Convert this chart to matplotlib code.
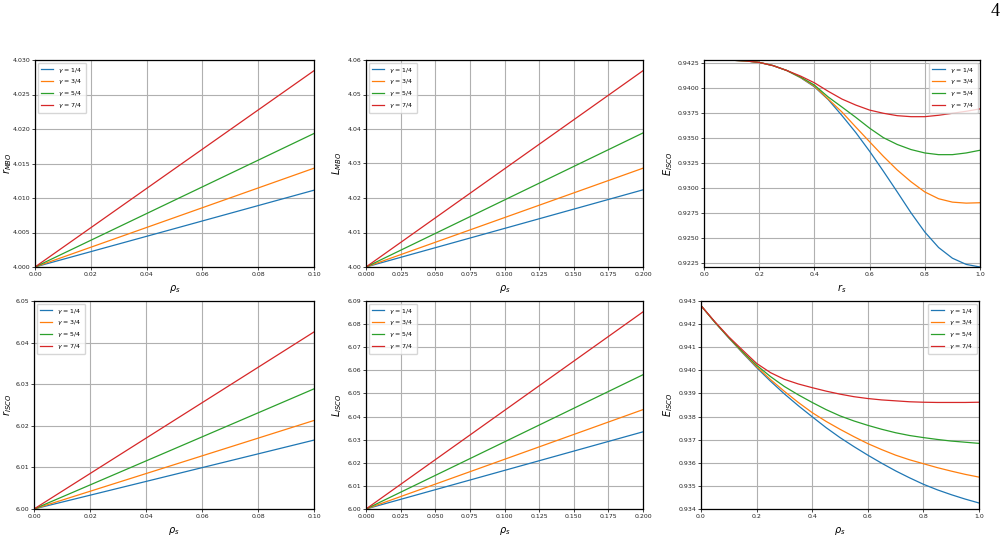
import numpy as np
import matplotlib
matplotlib.use("Agg")
import matplotlib.pyplot as plt
from matplotlib.ticker import MultipleLocator

# ---------------- data ----------------
gamma_labels = [r"$\gamma$ = 1/4", r"$\gamma$ = 3/4", r"$\gamma$ = 5/4", r"$\gamma$ = 7/4"]
colors = ["#1f77b4", "#ff7f0e", "#2ca02c", "#d62728"]

# MBO radius vs rho_s (linear)
rho_mbo_r = [0.0, 0.05, 0.10]
r_mbo = [
    [4.0, 4.00556, 4.01113],
    [4.0, 4.00716, 4.01432],
    [4.0, 4.00968, 4.01935],
    [4.0, 4.01423, 4.02845],
]

# MBO angular momentum vs rho_s (linear)
rho_mbo_L = [0.0, 0.10, 0.20]
L_mbo = [
    [4.0, 4.01118, 4.02237],
    [4.0, 4.01432, 4.02864],
    [4.0, 4.01943, 4.03886],
    [4.0, 4.02845, 4.05690],
]

# ISCO radius vs rho_s (linear)
rho_isco_r = [0.0, 0.05, 0.10]
r_isco = [
    [6.0, 6.00828, 6.01656],
    [6.0, 6.01064, 6.02128],
    [6.0, 6.01444, 6.02888],
    [6.0, 6.02128, 6.04256],
]

# ISCO angular momentum vs rho_s (linear)
rho_isco_L = [0.0, 0.10, 0.20]
L_isco = [
    [6.0, 6.0167, 6.0334],
    [6.0, 6.0215, 6.0430],
    [6.0, 6.02905, 6.0581],
    [6.0, 6.04265, 6.0853],
]

# ISCO energy vs r_s
rs_E = [0.0, 0.05, 0.10, 0.15, 0.20, 0.25, 0.30, 0.35, 0.40, 0.45, 0.50,
        0.55, 0.60, 0.65, 0.70, 0.75, 0.80, 0.85, 0.90, 0.95, 1.00]
E_isco_rs = [
    [0.94281, 0.94281, 0.94279, 0.94272, 0.94257, 0.94225, 0.94176, 0.94104, 0.94013, 0.93885, 0.93725,
     0.93555, 0.93368, 0.93168, 0.92962, 0.92752, 0.92560, 0.92405, 0.92298, 0.92236, 0.92210],
    [0.94281, 0.94281, 0.94279, 0.94272, 0.94257, 0.94225, 0.94176, 0.94106, 0.94019, 0.93890, 0.93760,
     0.93610, 0.93463, 0.93317, 0.93181, 0.93063, 0.92961, 0.92893, 0.92859, 0.92849, 0.92853],
    [0.94281, 0.94281, 0.94279, 0.94272, 0.94257, 0.94225, 0.94176, 0.94110, 0.94030, 0.93911, 0.93810,
     0.93707, 0.93599, 0.93504, 0.93436, 0.93385, 0.93351, 0.93334, 0.93334, 0.93351, 0.93378],
    [0.94281, 0.94281, 0.94279, 0.94272, 0.94257, 0.94225, 0.94176, 0.94120, 0.94053, 0.93968, 0.93890,
     0.93830, 0.93780, 0.93748, 0.93724, 0.93714, 0.93714, 0.93728, 0.93748, 0.93768, 0.93792],
]

# ISCO energy vs rho_s
rho_E = [0.0, 0.05, 0.10, 0.15, 0.20, 0.25, 0.30, 0.35, 0.40, 0.45, 0.50,
         0.55, 0.60, 0.65, 0.70, 0.75, 0.80, 0.85, 0.90, 0.95, 1.00]
E_isco_rho = [
    [0.94280, 0.94208, 0.94140, 0.94075, 0.94012, 0.93953, 0.93898, 0.93847, 0.93799, 0.93752, 0.93709,
     0.93670, 0.93633, 0.93598, 0.93565, 0.93535, 0.93507, 0.93483, 0.93462, 0.93443, 0.93426],
    [0.94280, 0.94208, 0.94141, 0.94077, 0.94016, 0.93960, 0.93909, 0.93861, 0.93817, 0.93779, 0.93745,
     0.93713, 0.93683, 0.93657, 0.93633, 0.93613, 0.93596, 0.93579, 0.93564, 0.93550, 0.93538],
    [0.94280, 0.94208, 0.94142, 0.94080, 0.94022, 0.93973, 0.93930, 0.93894, 0.93861, 0.93830, 0.93803,
     0.93781, 0.93762, 0.93745, 0.93730, 0.93718, 0.93709, 0.93701, 0.93694, 0.93689, 0.93684],
    [0.94280, 0.94210, 0.94145, 0.94087, 0.94030, 0.93990, 0.93961, 0.93941, 0.93925, 0.93910, 0.93897,
     0.93886, 0.93878, 0.93872, 0.93868, 0.93864, 0.93862, 0.93861, 0.93861, 0.93861, 0.93862],
]

# ---------------- style ----------------
plt.rcParams.update({
    "font.family": "DejaVu Sans",
    "mathtext.fontset": "dejavusans",
    "axes.linewidth": 0.9,
    "xtick.labelsize": 4.5,
    "ytick.labelsize": 4.5,
    "xtick.major.size": 2.0,
    "ytick.major.size": 2.0,
    "xtick.major.width": 0.6,
    "ytick.major.width": 0.6,
    "xtick.major.pad": 1.5,
    "ytick.major.pad": 1.5,
    "xtick.color": "#222222",
    "ytick.color": "#222222",
    "axes.labelsize": 7,
    "axes.labelpad": 1.5,
    "grid.color": "#b0b0b0",
    "grid.linewidth": 0.8,
})

fig = plt.figure(figsize=(10.08, 5.37), dpi=100)
W, H = 1008.0, 537.0


def make_ax(x0, x1, ytop, ybot):
    return fig.add_axes([x0 / W, 1 - ybot / H, (x1 - x0) / W, (ybot - ytop) / H])


def style(ax, xlabel, ylabel, legend_loc, ylab_x):
    ax.grid(True)
    ax.set_axisbelow(True)
    ax.set_xlabel(xlabel)
    ax.set_ylabel(ylabel)
    ax.yaxis.set_label_coords(ylab_x, 0.5)
    ax.xaxis.set_label_coords(0.5, -0.075)
    ax.ticklabel_format(useOffset=False, style="plain")
    for s in ax.spines.values():
        s.set_color("black")
    ax.legend(loc=legend_loc, fontsize=4.5, framealpha=0.8, handlelength=2.0,
              borderpad=0.5, labelspacing=0.45, handletextpad=0.8, borderaxespad=0.4,
              fancybox=True, edgecolor="#cccccc")


lw = 0.9

# Panel 1
ax1 = make_ax(35, 314, 60, 267)
for ys, c, lab in zip(r_mbo, colors, gamma_labels):
    ax1.plot(rho_mbo_r, ys, color=c, lw=lw, label=lab)
ax1.set_xlim(0, 0.10)
ax1.set_ylim(4.0, 4.03)
ax1.yaxis.set_major_locator(MultipleLocator(0.005))
ax1.xaxis.set_major_locator(MultipleLocator(0.02))
style(ax1, r"$\rho_s$", r"$r_{MBO}$", "upper left", -0.075)

# Panel 2
ax2 = make_ax(366, 643, 60, 267)
for ys, c, lab in zip(L_mbo, colors, gamma_labels):
    ax2.plot(rho_mbo_L, ys, color=c, lw=lw, label=lab)
ax2.set_xlim(0, 0.20)
ax2.set_ylim(4.0, 4.06)
ax2.yaxis.set_major_locator(MultipleLocator(0.01))
ax2.xaxis.set_major_locator(MultipleLocator(0.025))
style(ax2, r"$\rho_s$", r"$L_{MBO}$", "upper left", -0.079)

# Panel 3
ax3 = make_ax(704, 980, 60, 267)
for ys, c, lab in zip(E_isco_rs, colors, gamma_labels):
    ax3.plot(rs_E, ys, color=c, lw=lw, label=lab)
allE = np.concatenate([np.array(v) for v in E_isco_rs])
ax3.set_xlim(0, 1)
ax3.set_ylim(allE.min(), allE.max())
ax3.yaxis.set_major_locator(MultipleLocator(0.0025))
ax3.xaxis.set_major_locator(MultipleLocator(0.2))
style(ax3, r"$r_s$", r"$E_{ISCO}$", "upper right", -0.105)

# Panel 4
ax4 = make_ax(34, 314, 301, 509)
for ys, c, lab in zip(r_isco, colors, gamma_labels):
    ax4.plot(rho_isco_r, ys, color=c, lw=lw, label=lab)
ax4.set_xlim(0, 0.10)
ax4.set_ylim(6.0, 6.05)
ax4.yaxis.set_major_locator(MultipleLocator(0.01))
ax4.xaxis.set_major_locator(MultipleLocator(0.02))
style(ax4, r"$\rho_s$", r"$r_{ISCO}$", "upper left", -0.072)

# Panel 5
ax5 = make_ax(366, 643, 301, 509)
for ys, c, lab in zip(L_isco, colors, gamma_labels):
    ax5.plot(rho_isco_L, ys, color=c, lw=lw, label=lab)
ax5.set_xlim(0, 0.20)
ax5.set_ylim(6.0, 6.09)
ax5.yaxis.set_major_locator(MultipleLocator(0.01))
ax5.xaxis.set_major_locator(MultipleLocator(0.025))
style(ax5, r"$\rho_s$", r"$L_{ISCO}$", "upper left", -0.079)

# Panel 6
ax6 = make_ax(701, 979, 301, 509)
for ys, c, lab in zip(E_isco_rho, colors, gamma_labels):
    ax6.plot(rho_E, ys, color=c, lw=lw, label=lab)
ax6.set_xlim(0, 1)
ax6.set_ylim(0.934, 0.943)
ax6.yaxis.set_major_locator(MultipleLocator(0.001))
ax6.xaxis.set_major_locator(MultipleLocator(0.2))
style(ax6, r"$\rho_s$", r"$E_{ISCO}$", "upper right", -0.094)

# page number
fig.text(1000 / W, 1 - 12 / H, "4", family="Liberation Serif", fontsize=13,
         ha="right", va="center")

fig.savefig("out.png", dpi=100)
